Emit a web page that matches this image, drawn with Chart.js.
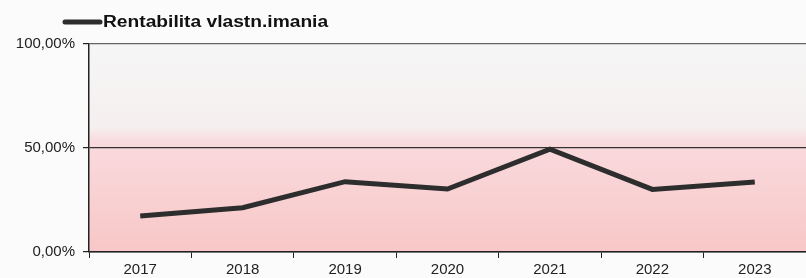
<!DOCTYPE html>
<html>
<head>
    <title>Rentabilita vlastn.imania</title>
    <script src="https://cdn.jsdelivr.net/npm/chart.js"></script>
    <style>
        body { margin: 0; background: #fbfbfb; }
    </style>
</head>
<body>
    <canvas id="myChart" width="806" height="278"></canvas>
    <script>
        const years = ['2017', '2018', '2019', '2020', '2021', '2022', '2023'];
        const roe = [17.3, 21.3, 33.8, 30.3, 49.4, 30.1, 33.6];
        const seriesLabel = 'Rentabilita vlastn.imania';

        // background of plot area: light grey on top, pink below
        const plotBg = {
            id: 'plotBg',
            beforeDraw(chart) {
                const { ctx, chartArea: a } = chart;
                const g = ctx.createLinearGradient(0, a.top, 0, a.bottom);
                g.addColorStop(0, '#f6f6f6');
                g.addColorStop(0.40, '#f5efef');
                g.addColorStop(0.47, '#f9dadd');
                g.addColorStop(1, '#f8c7c7');
                ctx.save();
                ctx.fillStyle = g;
                ctx.fillRect(a.left, a.top, a.right - a.left, a.bottom - a.top);
                ctx.restore();
            }
        };

        // simple legend drawn by hand so it sits where the original one is
        const topLegend = {
            id: 'topLegend',
            afterDraw(chart) {
                const ctx = chart.ctx;
                const ds = chart.data.datasets[0];
                ctx.save();
                ctx.strokeStyle = ds.borderColor;
                ctx.lineWidth = 5;
                ctx.lineCap = 'round';
                ctx.beginPath();
                ctx.moveTo(65, 22);
                ctx.lineTo(100, 22);
                ctx.stroke();
                ctx.translate(103, 22);
                ctx.scale(1.2, 1);
                ctx.fillStyle = '#111';
                ctx.font = 'bold 16px "Liberation Sans", Arial, sans-serif';
                ctx.textBaseline = 'middle';
                ctx.fillText(ds.label, 0, 1);
                ctx.restore();
            }
        };

        const ctx = document.getElementById('myChart').getContext('2d');
        new Chart(ctx, {
            type: 'line',
            data: {
                labels: years,
                datasets: [{
                    label: seriesLabel,
                    data: roe,
                    borderColor: '#2d2d2d',
                    borderWidth: 5,
                    pointRadius: 0,
                    tension: 0,
                    fill: false
                }]
            },
            options: {
                responsive: false,
                animation: false,
                layout: { padding: { top: 44, right: 0, left: 0, bottom: 0 } },
                plugins: {
                    legend: { display: false },
                    tooltip: { enabled: false }
                },
                scales: {
                    x: {
                        offset: true,
                        grid: {
                            offset: true,
                            drawOnChartArea: false,
                            color: '#222',
                            tickLength: 6
                        },
                        border: { color: '#222', width: 1.5 },
                        ticks: {
                            color: '#222',
                            padding: 3,
                            font: { family: '"Liberation Sans", Arial, sans-serif', size: 15 }
                        },
                        afterFit(scale) { scale.height = 26; }
                    },
                    y: {
                        min: 0,
                        max: 100,
                        ticks: {
                            stepSize: 50,
                            color: '#222',
                            padding: 8,
                            font: { family: '"Liberation Sans", Arial, sans-serif', size: 15 },
                            callback: v => v.toFixed(2).replace('.', ',') + '%'
                        },
                        grid: {
                            color: ctx => ctx.tick && ctx.tick.value === 100 ? '#666' : '#333',
                            lineWidth: 1.2,
                            tickColor: '#222',
                            tickLength: 6
                        },
                        border: { color: '#222', width: 1.5 },
                        afterFit(scale) { scale.width = 89; }
                    }
                }
            },
            plugins: [plotBg, topLegend]
        });
    </script>
</body>
</html>
